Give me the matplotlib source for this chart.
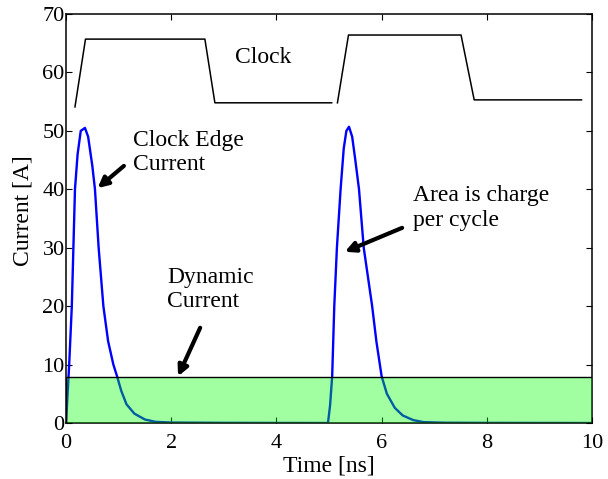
import matplotlib.pyplot as plt
from matplotlib.patches import Rectangle

# current pulses (ns, A)
t_cur = [0.0, 0.03, 0.06, 0.11, 0.14, 0.17, 0.22, 0.28, 0.36, 0.42, 0.5, 0.55, 0.62, 0.71,
         0.8, 0.9, 0.97, 1.05, 1.15, 1.3, 1.5, 1.7, 2.0, 3.0, 4.0, 4.98,
         5.02, 5.06, 5.1, 5.15, 5.22, 5.28, 5.33, 5.38, 5.44, 5.5, 5.57, 5.66, 5.82,
         5.9, 6.0, 6.1, 6.25, 6.4, 6.6, 6.8, 7.2, 8.0, 9.0, 10.0]
i_cur = [0.0, 5, 10, 20, 30, 40, 46, 50, 50.5, 49, 44, 40, 30, 20,
         14, 10, 8, 5.5, 3.2, 1.6, 0.6, 0.2, 0.08, 0.03, 0.01, 0.0,
         3, 8, 20, 30, 40, 47, 50, 50.7, 49, 45, 40, 30, 20,
         14, 8, 5, 2.6, 1.3, 0.5, 0.15, 0.05, 0.02, 0.01, 0.0]

# clock waveform, two drawn pieces
clk1_t = [0.17, 0.37, 2.64, 2.83, 5.05]
clk1_v = [54.1, 65.7, 65.7, 54.8, 54.8]
clk2_t = [5.16, 5.37, 7.51, 7.76, 9.80]
clk2_v = [54.8, 66.4, 66.4, 55.3, 55.3]

dyn_level = 7.8

plt.rcParams['font.family'] = ['Liberation Serif', 'DejaVu Serif']

fig = plt.figure(figsize=(6.08, 4.79), dpi=100)
ax = fig.add_axes([0.1086, 0.1169, 0.8651, 0.8539])

ax.plot(t_cur, i_cur, color='blue', lw=1.7)
ax.plot(clk1_t, clk1_v, color='black', lw=1.1)
ax.plot(clk2_t, clk2_v, color='black', lw=1.1)

ax.add_patch(Rectangle((0, 0), 10, dyn_level, facecolor=(0, 1, 0, 0.37),
                       edgecolor='black', lw=1.0, zorder=3))

ax.set_xlim(0, 10)
ax.set_ylim(0, 70)
ax.set_xticks(range(0, 11, 2))
ax.set_yticks(range(0, 71, 10))
ax.tick_params(direction='in', top=True, right=True, length=4, labelsize=16)
ax.tick_params(axis='y', pad=1)
ax.tick_params(axis='x', pad=8)
for s in ax.spines.values():
    s.set_linewidth(1.1)

ax.set_xlabel('Time [ns]', fontsize=17, labelpad=2)
ax.set_ylabel('Current [A]', fontsize=17)
ax.yaxis.set_label_coords(-0.062, 0.52)

ax.text(3.21, 62.5, 'Clock', fontsize=17, va='center')
ax.text(1.27, 46.3, 'Clock Edge\nCurrent', fontsize=17, va='center', linespacing=1.2)
ax.text(6.6, 36.8, 'Area is charge\nper cycle', fontsize=17, va='center', linespacing=1.2)
ax.text(1.92, 22.8, 'Dynamic\nCurrent', fontsize=17, va='center', linespacing=1.2)

arrow = dict(arrowstyle='-|>,head_length=0.6,head_width=0.3', lw=3, color='black',
             shrinkA=0, shrinkB=0)
ax.annotate('', xy=(0.6, 40.2), xytext=(1.1, 44.0), arrowprops=arrow)
ax.annotate('', xy=(5.3, 29.3), xytext=(6.39, 33.4), arrowprops=arrow)
ax.annotate('', xy=(2.13, 8.0), xytext=(2.55, 16.3), arrowprops=arrow)

fig.savefig('out.png', dpi=100)
